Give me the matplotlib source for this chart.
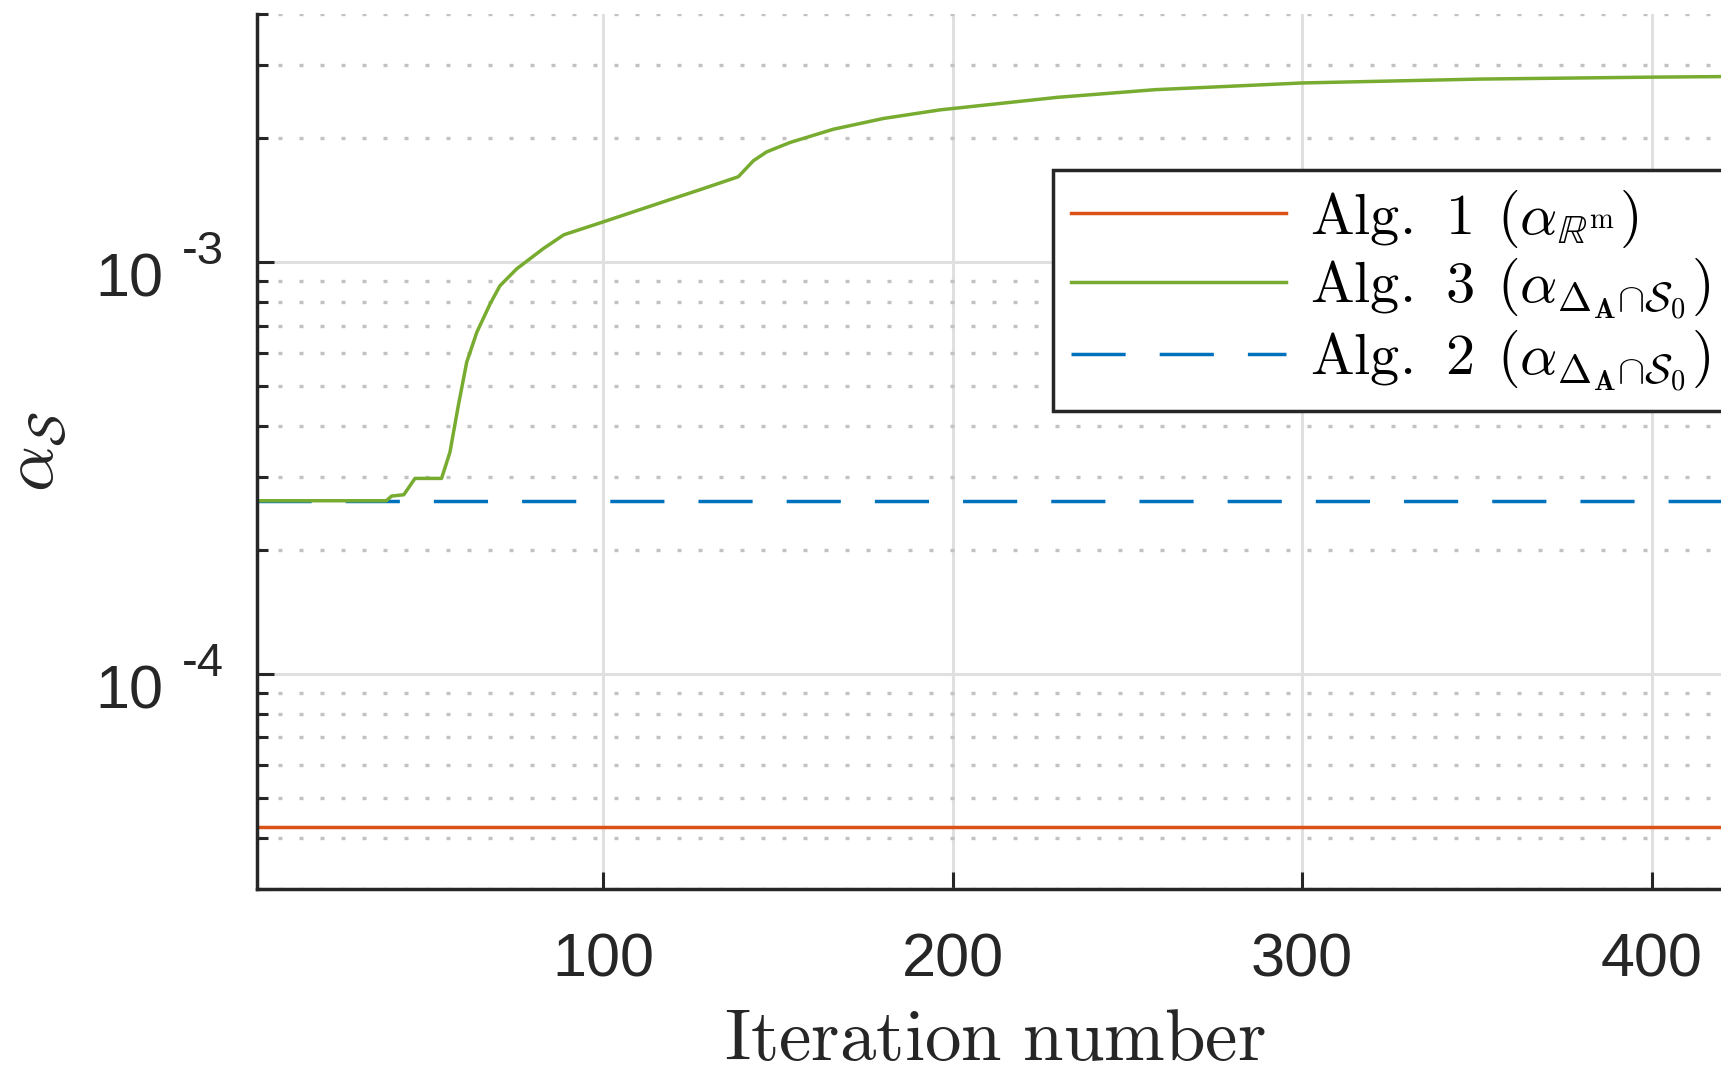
import numpy as np
import matplotlib
matplotlib.use('Agg')
import matplotlib.pyplot as plt
import matplotlib.transforms as mtransforms
from matplotlib.ticker import LogLocator, NullFormatter

plt.rcParams['mathtext.fontset'] = 'cm'

# (iteration number vs alpha_S)
alg3_x = [1, 38, 39.5, 43, 46.2, 53.8, 56.2, 58.6, 61, 63.9, 67.7, 70.5, 75.3,
          82.9, 88.8, 99.7, 119.5, 128, 138.7, 143, 146.8, 153.5, 165.9, 180.2,
          196.4, 230, 258, 300, 351, 400, 423]
alg3_y = [2.63e-4, 2.63e-4, 2.70e-4, 2.72e-4, 2.98e-4, 2.98e-4, 3.45e-4, 4.48e-4,
          5.71e-4, 6.75e-4, 7.91e-4, 8.75e-4, 9.62e-4, 1.077e-3, 1.164e-3,
          1.248e-3, 1.42e-3, 1.50e-3, 1.61e-3, 1.76e-3, 1.85e-3, 1.95e-3,
          2.10e-3, 2.23e-3, 2.34e-3, 2.51e-3, 2.62e-3, 2.72e-3, 2.78e-3,
          2.81e-3, 2.82e-3]
alg1_x = [1, 423]
alg1_y = [4.25e-5, 4.25e-5]
alg2_x = [1, 423]
alg2_y = [2.63e-4, 2.63e-4]

x_ticks = [100, 200, 300, 400]
y_decades = [-4, -3]

labels = [r'$\mathrm{Alg.\:\,1}\;\,(\alpha_{\mathbb{R}^{\mathrm{m}}})$',
          r'$\mathrm{Alg.\:\,3}\;\,(\alpha_{\Delta_{\mathbf{A}}{\cap}\mathcal{S}_0})$',
          r'$\mathrm{Alg.\:\,2}\;\,(\alpha_{\Delta_{\mathbf{A}}{\cap}\mathcal{S}_0})$']

W, H = 1721, 1066
fig = plt.figure(figsize=(W / 100, H / 100), dpi=100)
# axes run past the right edge, like the cropped original
ax = fig.add_axes([257 / W, (H - 889) / H, (1732 - 257) / W, (889 - 14) / H])

dark = '#262626'
l1, = ax.plot(alg1_x, alg1_y, color='#D95319', lw=2.5)
l2, = ax.plot(alg2_x, alg2_y, color='#0072BD', lw=2.5, dashes=(15.6, 9.8))
l3, = ax.plot(alg3_x, alg3_y, color='#77AC30', lw=2.5)

ax.set_yscale('log')
ax.set_xlim(1, 423)
ax.set_ylim(3e-5, 4e-3)

ax.set_xticks(x_ticks)
ax.set_xticklabels([str(t) for t in x_ticks], fontsize=44,
                   family='Liberation Sans', color=dark)
shift = mtransforms.ScaledTranslation(-6 / 100, 0, fig.dpi_scale_trans)
for lab in ax.get_xticklabels():
    lab.set_transform(lab.get_transform() + shift)
ax.set_yticks([10.0 ** e for e in y_decades])
ax.yaxis.set_minor_locator(LogLocator(base=10, subs=np.arange(2, 10)))
ax.yaxis.set_minor_formatter(NullFormatter())
ax.tick_params(axis='both', which='both', direction='in', color=dark,
               width=2.2, labelleft=False)
ax.tick_params(axis='both', which='major', length=12, pad=31)
ax.tick_params(axis='y', which='minor', length=7.8)

# y labels drawn MATLAB-style: "10" with a separate exponent
for e in y_decades:
    ax.annotate('10', xy=(0, 10.0 ** e), xycoords=('axes fraction', 'data'),
                xytext=(-94, -35), textcoords='offset pixels', ha='right',
                va='baseline', fontsize=44, family='Liberation Sans', color=dark)
    ax.annotate(str(e), xy=(0, 10.0 ** e),
                xycoords=('axes fraction', 'data'), xytext=(-75, -2),
                textcoords='offset pixels', ha='left', va='baseline',
                fontsize=34, family='Liberation Sans', color=dark)

ax.grid(True, which='major', color='#e0e0e0', lw=2.2)
ax.grid(True, which='minor', axis='y', color='#c2c2c2', lw=2.4,
        dashes=(1.2, 5.1))
ax.set_axisbelow(True)

for side in ['top', 'right']:
    ax.spines[side].set_visible(False)
for side in ['left', 'bottom']:
    ax.spines[side].set_color(dark)
    ax.spines[side].set_linewidth(2.5)

ax.set_xlabel(r'$\mathrm{Iteration\ number}$', fontsize=52.5, color=dark)
ax.xaxis.set_label_coords(0.5, -0.131)
ax.set_ylabel(r'$\alpha_{\mathcal{S}}$', fontsize=52, color=dark)
ax.yaxis.set_label_coords(-0.128, 0.5)

leg = ax.legend([l1, l3, l2], labels, loc='upper left',
                bbox_to_anchor=(1053 / W, 1 - 170 / H),
                bbox_transform=fig.transFigure, borderaxespad=0,
                fontsize=42, handlelength=3.7, handletextpad=0.4,
                borderpad=0.3, labelspacing=0.1, fancybox=False,
                framealpha=1, edgecolor=dark)
leg.get_frame().set_linewidth(2.5)

fig.savefig('out.png', dpi=100)
